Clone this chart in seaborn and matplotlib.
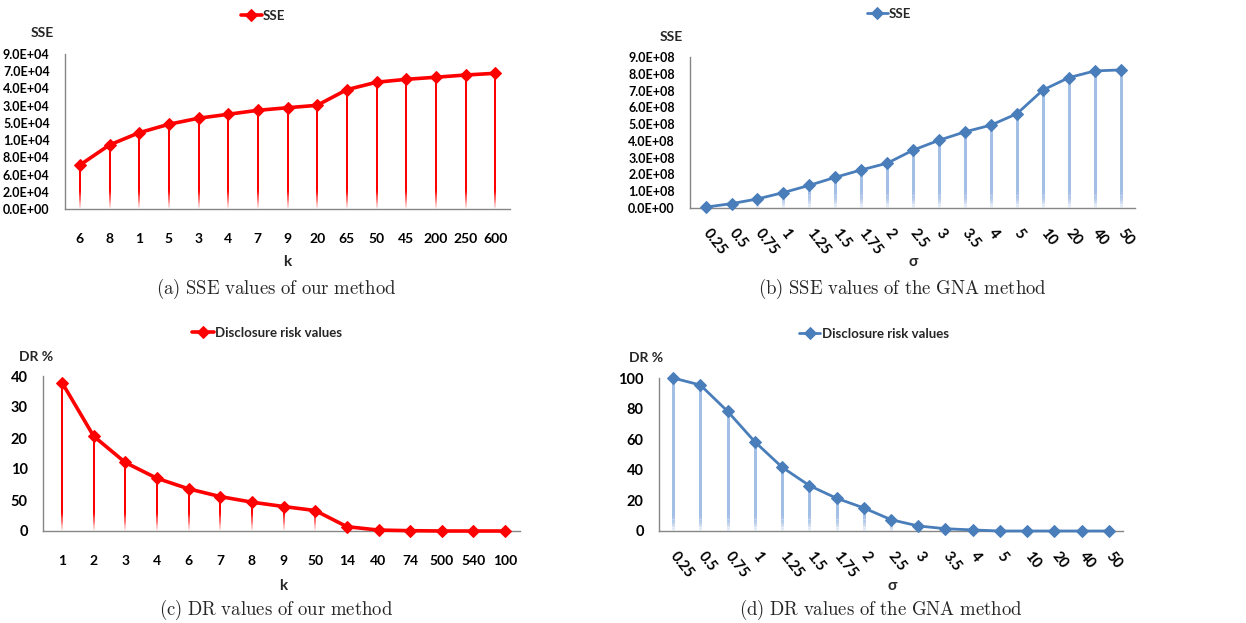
import numpy as np
import pandas as pd
import matplotlib
matplotlib.use("Agg")
import matplotlib.pyplot as plt
import seaborn as sns
from matplotlib.collections import LineCollection
from matplotlib.colors import to_rgba

sns.set_style("white")
plt.rcParams["font.family"] = ["Lato", "DejaVu Sans"]
plt.rcParams["font.weight"] = "bold"
plt.rcParams["mathtext.fontset"] = "cm"

# (a) SSE of our method, values in axis units of 1e4 (tick labels are as printed)
k_sse = ["6", "8", "1", "5", "3", "4", "7", "9", "20", "65", "50", "45", "200", "250", "600"]
sse_ours = [2.55, 3.72, 4.43, 4.92, 5.27, 5.50, 5.73, 5.88, 6.02, 6.93, 7.36, 7.53, 7.65, 7.78, 7.88]
sse_ours_ticks = ["0.0E+00", "2.0E+04", "6.0E+04", "8.0E+04", "1.0E+04",
                  "5.0E+04", "3.0E+04", "4.0E+04", "7.0E+04", "9.0E+04"]

# (b) SSE of GNA, values in units of 1e8
sigma = ["0.25", "0.5", "0.75", "1", "1.25", "1.5", "1.75", "2", "2.5", "3",
         "3.5", "4", "5", "10", "20", "40", "50"]
sse_gna = [0.05, 0.26, 0.54, 0.92, 1.35, 1.83, 2.27, 2.67, 3.45, 4.04,
           4.54, 4.94, 5.62, 7.03, 7.77, 8.17, 8.23]
sse_gna_ticks = ["0.0E+00", "1.0E+08", "2.0E+08", "3.0E+08", "4.0E+08",
                 "5.0E+08", "6.0E+08", "7.0E+08", "8.0E+08", "9.0E+08"]

# (c) DR of our method, values in axis units (tick labels are as printed)
k_dr = ["1", "2", "3", "4", "6", "7", "8", "9", "50", "14", "40", "74", "500", "540", "100"]
dr_ours = [47.9, 30.6, 22.1, 17.0, 13.6, 11.1, 9.3, 7.9, 6.6, 1.4, 0.3, 0.1, 0.0, 0.0, 0.0]
dr_ours_ticks = ["0", "50", "10", "20", "30", "40"]

# (d) DR of GNA
dr_gna = [100, 95.4, 78.2, 58.3, 41.7, 29.7, 21.4, 15.1, 7.4, 3.3,
          1.5, 0.7, 0.0, 0.0, 0.0, 0.0, 0.0]
dr_gna_ticks = ["0", "20", "40", "60", "80", "100"]

RED = "#ff0000"
BLUE = "#4a7ebb"
BLUE_DROP = "#a4bfe6"
GRAY = "#868686"

W, H = 1246, 623
fig = plt.figure(figsize=(W / 100, H / 100), dpi=100)


def rect(l, t, r, b):
    return [l / W, 1 - b / H, (r - l) / W, (b - t) / H]


def drop_lines(ax, xs, ys, color, fade_frac, lw):
    # vertical drop lines that fade out towards the axis
    lo, hi = ax.get_ylim()
    fade = fade_frac * (hi - lo)
    base = to_rgba(color)
    segs, cols = [], []
    n = 16
    for x, y in zip(xs, ys):
        if y <= 0:
            continue
        f = min(fade, y)
        segs.append([(x, f), (x, y)])
        cols.append(base)
        edges = np.linspace(0, f, n + 1)
        for i in range(n):
            segs.append([(x, edges[i]), (x, edges[i + 1])])
            cols.append((base[0], base[1], base[2], (i + 0.5) / n))
    lc = LineCollection(segs, colors=cols, linewidths=lw, zorder=1,
                        capstyle="butt", antialiaseds=False)
    ax.add_collection(lc)


def panel(box, cats, vals, ticklabels, step, color, drop_color, lw, dlw, label,
          ylab, xlab, caption, rotate, xpad, leg_xy, ylab_xy, xlab_xy, cap_xy, yfs):
    ax = fig.add_axes(rect(*box))
    df = pd.DataFrame({"pos": np.arange(len(cats)), "val": vals})
    ax.set_ylim(0, step * (len(ticklabels) - 1))
    ax.set_xlim(xpad[0], len(cats) - 1 + xpad[1])
    drop_lines(ax, df["pos"], df["val"], drop_color, 0.12, dlw)
    sns.lineplot(data=df, x="pos", y="val", color=color, linewidth=lw,
                 marker="D", markersize=6.5, markeredgecolor=color,
                 label=label, ax=ax, zorder=3)
    for ln in ax.lines:
        ln.set_clip_on(False)

    ax.set_yticks(np.arange(len(ticklabels)) * step)
    ax.set_yticklabels(ticklabels, fontsize=yfs, fontweight="bold")
    ax.set_xticks(df["pos"])
    if rotate:
        ax.set_xticklabels(cats, fontsize=10.5, fontweight="bold", rotation=-52,
                           rotation_mode="anchor", ha="left", va="center")
        ax.tick_params(axis="x", pad=12)
    else:
        ax.set_xticklabels(cats, fontsize=10, fontweight="bold")
        ax.tick_params(axis="x", pad=13)
    ax.tick_params(axis="both", direction="out", length=4, width=1, color=GRAY,
                   labelcolor="black")
    ax.tick_params(axis="y", pad=7)
    ax.set_xlabel("")
    ax.set_ylabel("")
    for s in ["top", "right"]:
        ax.spines[s].set_visible(False)
    for s in ["left", "bottom"]:
        ax.spines[s].set_color(GRAY)
        ax.spines[s].set_linewidth(1)

    ax.legend(loc="center", bbox_to_anchor=leg_xy, frameon=False, handlelength=1.6,
              handletextpad=0.1, prop={"size": 9.5, "weight": "bold"})
    fig.text(ylab_xy[0] / W, 1 - ylab_xy[1] / H, ylab, ha="center", va="center",
             fontsize=10, fontweight="bold")
    fig.text(xlab_xy[0] / W, 1 - xlab_xy[1] / H, xlab, ha="center", va="center",
             fontsize=11, fontweight="bold")
    fig.text(cap_xy[0] / W, 1 - cap_xy[1] / H, caption, ha="center", va="center",
             fontsize=13.5)
    return ax


panel((65, 54, 510, 209), k_sse, sse_ours, sse_ours_ticks, 1, RED, RED, 2.6, 1.2, "SSE",
      "SSE", "k", r"$\mathrm{(a)\ SSE\ values\ of\ our\ method}$", False, (-0.5, 0.5),
      (0.445, 1.245), (42, 33), (287, 262), (276, 289), 9)
panel((690, 57, 1135, 208), sigma, sse_gna, sse_gna_ticks, 1, BLUE, BLUE_DROP, 2.0, 2.0,
      "SSE", "SSE", "σ", r"$\mathrm{(b)\ SSE\ values\ of\ the\ GNA\ method}$", True,
      (-0.6, 0.55), (0.447, 1.285), (671, 37), (913, 262), (902, 289), 9)
panel((43, 376, 520, 531), k_dr, dr_ours, dr_ours_ticks, 10, RED, RED, 2.6, 1.2,
      "Disclosure risk values", "DR %", "k", r"$\mathrm{(c)\ DR\ values\ of\ our\ method}$",
      False, (-0.6, 0.47), (0.47, 1.277), (36, 357), (283, 586), (276, 610), 10.5)
panel((659, 378, 1123, 531), sigma, dr_gna, dr_gna_ticks, 20, BLUE, BLUE_DROP, 2.0, 2.0,
      "Disclosure risk values", "DR %", "σ", r"$\mathrm{(d)\ DR\ values\ of\ the\ GNA\ method}$",
      True, (-0.52, 0.52), (0.463, 1.288), (646, 358), (892, 586), (881, 610), 10.5)

fig.savefig("out.png", dpi=100, facecolor="white")
